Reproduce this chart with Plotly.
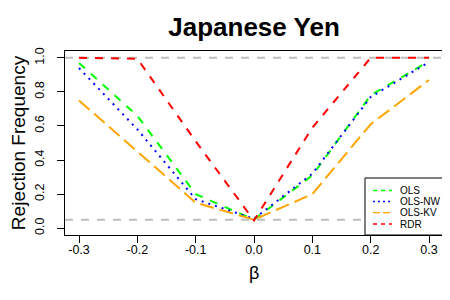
import plotly.graph_objects as go

beta = [-0.3, -0.2, -0.1, 0.0, 0.1, 0.2, 0.3]
ols = [0.97, 0.66, 0.20, 0.05, 0.31, 0.78, 0.98]
ols_nw = [0.94, 0.58, 0.17, 0.055, 0.32, 0.77, 0.975]
ols_kv = [0.75, 0.45, 0.15, 0.05, 0.20, 0.61, 0.87]
rdr = [1.0, 0.995, 0.51, 0.045, 0.59, 1.0, 1.0]
ref_levels = [1.0, 0.05]

x_ticks = [-0.3, -0.2, -0.1, 0.0, 0.1, 0.2, 0.3]
x_tick_labels = ["-0.3", "-0.2", "-0.1", "0.0", "0.1", "0.2", "0.3"]
y_ticks = [0.0, 0.2, 0.4, 0.6, 0.8, 1.0]
y_tick_labels = ["0.0", "0.2", "0.4", "0.6", "0.8", "1.0"]

FONT = "Liberation Sans, Arial, sans-serif"
W, H = 450, 300
L, R, T, B = 57, 15, 43, 73
PW, PH = W - L - R, H - T - B


def px(xp):
    return (xp - L) / PW


def py(yp):
    return 1 - (yp - T) / PH


fig = go.Figure()

for lvl in ref_levels:
    fig.add_hline(y=lvl, line=dict(color="#BEBEBE", width=2, dash="8px,8px"), layer="below")

series = [
    ("OLS", ols, "#00FF00", "8px,8px"),
    ("OLS-NW", ols_nw, "#0000FF", "2px,5px"),
    ("OLS-KV", ols_kv, "#FFA500", "14px,6px"),
    ("RDR", rdr, "#FF0000", "8px,8px"),
]
for name, vals, col, dash in series:
    fig.add_trace(go.Scatter(x=beta, y=vals, mode="lines", name=name, showlegend=False,
                             line=dict(color=col, width=2, dash=dash)))

# manual legend (R-style compact box)
fig.add_shape(type="rect", xref="paper", yref="paper", x0=px(357), x1=1, y0=0, y1=py(170),
              line=dict(color="black", width=1), fillcolor="white", layer="above")
leg_y = [182.5, 193.5, 204.7, 216]
leg_dash = ["4px,4px", "2px,3px", "7px,3px", "4px,4px"]
annotations = []
for (name, vals, col, dash), yy, ld in zip(series, leg_y, leg_dash):
    fig.add_shape(type="line", xref="paper", yref="paper", x0=px(365), x1=px(384),
                  y0=py(yy), y1=py(yy), line=dict(color=col, width=1.3, dash=ld),
                  layer="above")
    annotations.append(dict(text=name, xref="paper", yref="paper", x=px(390), y=py(yy),
                            xanchor="left", yanchor="middle", showarrow=False,
                            font=dict(size=10, family=FONT)))

annotations += [
    dict(text="β", xref="paper", yref="paper", x=0.5, y=py(265),
         xanchor="center", yanchor="middle", showarrow=False,
         font=dict(size=18, family=FONT)),
]

fig.update_layout(
    width=W, height=H,
    margin=dict(l=L, r=R, t=T, b=B, autoexpand=False),
    plot_bgcolor="white", paper_bgcolor="white",
    font=dict(family=FONT, color="black", size=12.5),
    title=dict(text="<b>Japanese Yen</b>", x=(L + W - R) / 2 / W, xanchor="center",
               y=1 - 19 / H, yanchor="middle", font=dict(size=26, family=FONT)),
    showlegend=False,
    annotations=annotations,
    xaxis=dict(range=[-0.324, 0.324], tickvals=x_ticks, ticktext=x_tick_labels,
               showgrid=False, zeroline=False, showline=True, linecolor="black",
               linewidth=1, mirror=True, ticks="outside", ticklen=7, tickcolor="black",
               ticklabelstandoff=-4),
    yaxis=dict(range=[-0.04, 1.04], tickvals=y_ticks, ticktext=y_tick_labels,
               showgrid=False, zeroline=False, showline=True, linecolor="black",
               linewidth=1, mirror=True, ticks="outside", ticklen=7, tickcolor="black",
               tickangle=-90, ticklabelstandoff=8,
               title=dict(text="Rejection Frequency", standoff=21,
                          font=dict(size=19, family=FONT))),
)

fig.write_html("out.html")
